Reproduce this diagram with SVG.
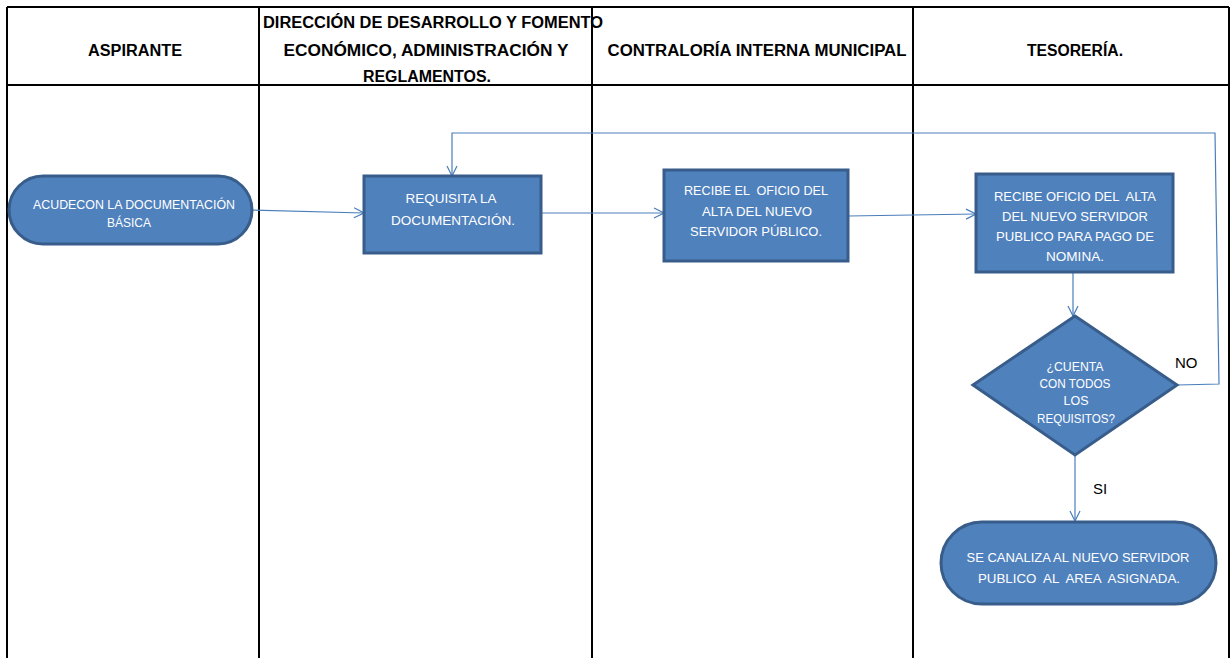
<svg xmlns="http://www.w3.org/2000/svg" width="1232" height="658" viewBox="0 0 1232 658">
<defs>
<style>
text{white-space:pre}
.hdr{font-family:"Liberation Sans",Arial,sans-serif;font-weight:bold;font-size:16px;fill:#000;text-anchor:middle}
.lane{stroke:#000;stroke-width:2;fill:none}
.node{fill:#4f81bd;stroke:#385d8a;stroke-width:3}
.nt{font-family:"Liberation Sans",Arial,sans-serif;font-size:13px;fill:#fff;text-anchor:middle}
.con{stroke:#4a7ebb;stroke-width:1.2;fill:none}
.lbl{font-family:"Liberation Sans",Arial,sans-serif;font-size:15px;fill:#000}
</style>
<marker id="arr" viewBox="0 0 12 12" refX="11" refY="6" markerWidth="12" markerHeight="12" markerUnits="userSpaceOnUse" orient="auto">
<path d="M1,1 L11,6 L1,11" fill="none" stroke="#4a7ebb" stroke-width="1.2"/>
</marker>
</defs>
<rect width="1232" height="658" fill="#fff"/>
<g id="lanes">
<line class="lane" x1="7" y1="7" x2="1229" y2="7"/>
<line class="lane" x1="7" y1="85" x2="1229" y2="85"/>
<line class="lane" x1="7" y1="7" x2="7" y2="658"/>
<line class="lane" x1="259" y1="7" x2="259" y2="658"/>
<line class="lane" x1="592" y1="7" x2="592" y2="658"/>
<line class="lane" x1="913" y1="7" x2="913" y2="658"/>
<line class="lane" x1="1229" y1="7" x2="1229" y2="658"/>
<text class="hdr" x="135" y="56" textLength="94" lengthAdjust="spacingAndGlyphs">ASPIRANTE</text>
<text class="hdr" x="433" y="28" textLength="340" lengthAdjust="spacingAndGlyphs">DIRECCIÓN DE DESARROLLO Y FOMENTO</text>
<text class="hdr" x="426" y="56" textLength="285" lengthAdjust="spacingAndGlyphs">ECONÓMICO, ADMINISTRACIÓN Y</text>
<text class="hdr" x="427" y="82" textLength="128" lengthAdjust="spacingAndGlyphs">REGLAMENTOS.</text>
<text class="hdr" x="757" y="56" textLength="299" lengthAdjust="spacingAndGlyphs">CONTRALORÍA INTERNA MUNICIPAL</text>
<text class="hdr" x="1075" y="56" textLength="96" lengthAdjust="spacingAndGlyphs">TESORERÍA.</text>
</g>
<g id="connectors">
<line class="con" x1="252" y1="210" x2="364" y2="213" marker-end="url(#arr)"/>
<line class="con" x1="541" y1="213" x2="664" y2="213" marker-end="url(#arr)"/>
<line class="con" x1="848" y1="216" x2="976" y2="214" marker-end="url(#arr)"/>
<line class="con" x1="1073" y1="272" x2="1073" y2="316" marker-end="url(#arr)"/>
<line class="con" x1="1075" y1="455" x2="1075" y2="521" marker-end="url(#arr)"/>
<polyline class="con" points="1177,385 1219,384 1215,133 452,133 452,176" marker-end="url(#arr)"/>
<text class="lbl" x="1175" y="368">NO</text>
<text class="lbl" x="1093" y="494">SI</text>
</g>
<g id="n1">
<rect class="node" x="9" y="176" width="243" height="68" rx="34"/>
<text class="nt" x="134" y="209" textLength="202" lengthAdjust="spacingAndGlyphs">ACUDECON LA DOCUMENTACIÓN</text>
<text class="nt" x="129" y="227" textLength="44" lengthAdjust="spacingAndGlyphs">BÁSICA</text>
</g>
<g id="n2">
<rect class="node" x="364" y="176" width="177" height="77"/>
<text class="nt" x="451" y="203" textLength="91" lengthAdjust="spacingAndGlyphs">REQUISITA LA</text>
<text class="nt" x="453" y="225" textLength="124" lengthAdjust="spacingAndGlyphs">DOCUMENTACIÓN.</text>
</g>
<g id="n3">
<rect class="node" x="664" y="170" width="184" height="91"/>
<text class="nt" x="756" y="195" textLength="144" lengthAdjust="spacingAndGlyphs">RECIBE EL  OFICIO DEL</text>
<text class="nt" x="757" y="216" textLength="110" lengthAdjust="spacingAndGlyphs">ALTA DEL NUEVO</text>
<text class="nt" x="756" y="236" textLength="132" lengthAdjust="spacingAndGlyphs">SERVIDOR PÚBLICO.</text>
</g>
<g id="n4">
<rect class="node" x="976" y="174" width="197" height="98"/>
<text class="nt" x="1075" y="201" textLength="162" lengthAdjust="spacingAndGlyphs">RECIBE OFICIO DEL  ALTA</text>
<text class="nt" x="1075" y="221" textLength="146" lengthAdjust="spacingAndGlyphs">DEL NUEVO SERVIDOR</text>
<text class="nt" x="1075" y="241" textLength="158" lengthAdjust="spacingAndGlyphs">PUBLICO PARA PAGO DE</text>
<text class="nt" x="1075" y="261" textLength="58" lengthAdjust="spacingAndGlyphs">NOMINA.</text>
</g>
<g id="n5">
<polygon class="node" points="1075,316 1177,385 1075,455 973,385"/>
<text class="nt" x="1075" y="371" textLength="57" lengthAdjust="spacingAndGlyphs">¿CUENTA</text>
<text class="nt" x="1075" y="388" textLength="71" lengthAdjust="spacingAndGlyphs">CON TODOS</text>
<text class="nt" x="1076" y="405" textLength="25" lengthAdjust="spacingAndGlyphs">LOS</text>
<text class="nt" x="1076" y="423" textLength="78" lengthAdjust="spacingAndGlyphs">REQUISITOS?</text>
</g>
<g id="n6">
<rect class="node" x="941" y="522" width="275" height="82" rx="41"/>
<text class="nt" x="1078" y="562" textLength="223" lengthAdjust="spacingAndGlyphs">SE CANALIZA AL NUEVO SERVIDOR</text>
<text class="nt" x="1079" y="583" textLength="202" lengthAdjust="spacingAndGlyphs">PUBLICO  AL  AREA  ASIGNADA.</text>
</g>
</svg>
